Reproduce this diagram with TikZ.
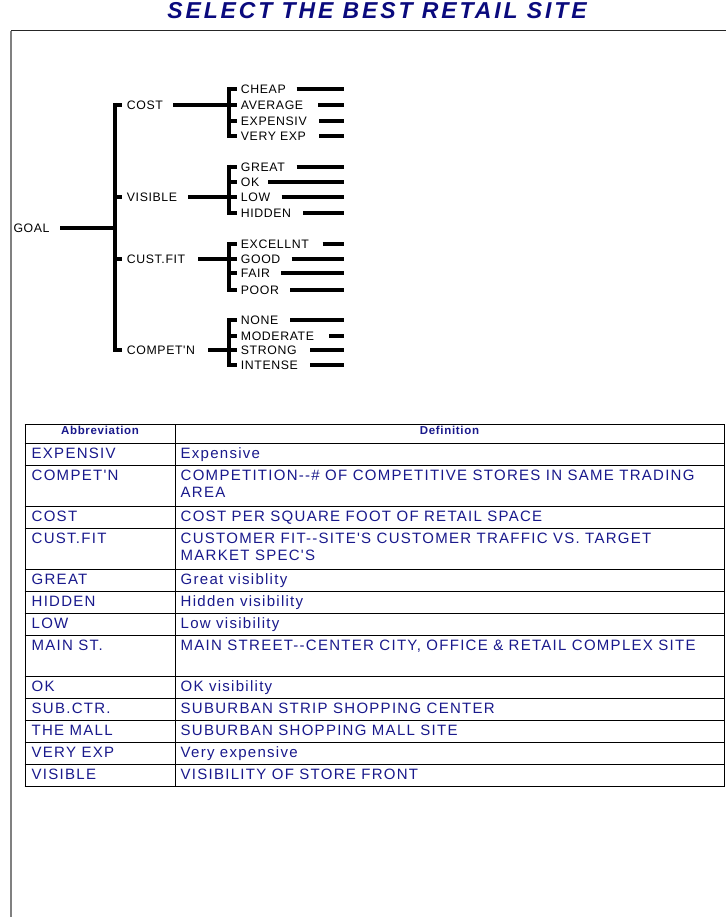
\documentclass[tikz,border=0pt]{standalone}
\usepackage{fontspec}
\setmainfont{Liberation Sans}
\newfontfamily\treefont[LetterSpace=5]{Liberation Sans}
\newfontfamily\tabfont[LetterSpace=8.5]{Liberation Sans}
\newfontfamily\headfont[LetterSpace=6]{Liberation Sans}
\newfontfamily\titlefont[LetterSpace=12.5]{Liberation Sans}
\definecolor{navy}{RGB}{10,10,125}
\definecolor{tabblue}{RGB}{25,25,140}
\begin{document}
\begin{tikzpicture}[x=1pt,y=-1pt,
  br/.style={line width=4pt, line cap=butt},
  lbl/.style={anchor=west, inner sep=0pt, font=\treefont\fontsize{12.3}{14}\selectfont, text height=8.8pt, text depth=0pt},
  cell/.style={anchor=north west, inner sep=0pt, align=left, text=tabblue, font=\tabfont\fontsize{15}{17}\selectfont},
  head/.style={anchor=base, inner sep=0pt, text=tabblue, font=\headfont\bfseries\fontsize{11.5}{13}\selectfont},
  tabline/.style={line width=1pt, draw=black},
  titlestyle/.style={anchor=base, inner sep=0pt, text=navy, font=\titlefont\bfseries\itshape\fontsize{23}{26}\selectfont}]
\useasboundingbox (0,0) rectangle (726,917);
\fill[white] (0,0) rectangle (726,917);
% frame
\coordinate (fTL) at (11,30.7);
\coordinate (fTR) at (726,30.7);
\coordinate (fBL) at (11,917);
\draw[line width=1.2pt, black!85] (fTL) -- (fTR);
\draw[line width=2pt, gray] (fTL) -- (fBL);
% title
\node[titlestyle] (title) at (377,19) {SELECT THE BEST RETAIL SITE};
% tree: root and trunk
\node[lbl] (goal) at (13.3,228.3) {GOAL};
\coordinate (trunkT) at (115.3,103);
\coordinate (trunkB) at (115.3,352.3);
\draw[br] (trunkT) -- (trunkB);
\coordinate (goalS) at (60,228.3);
\draw[br] (goalS) -- (goalS -| trunkT);
\coordinate (brx) at (229.3,0);
\foreach \n/\t/\y/\s in {cost/COST/105/173.3, visible/VISIBLE/196.7/188.3, custfit/CUST.FIT/259.3/198.3, competn/COMPET'N/350/208.3}{
  \node[lbl] (\n) at (126.7,\y) {\t};
  \draw[br] (115.3,\y) -- ([xshift=-5.2pt]\n.west);
  \coordinate (\n S) at (\s,\y);
  \draw[br] (\n S) -- (\n S -| brx);
}
% sub brackets
\draw[br] (229.3,87.3) -- (229.3,138);
\draw[br] (229.3,164.7) -- (229.3,214.7);
\draw[br] (229.3,242) -- (229.3,292);
\draw[br] (229.3,318) -- (229.3,367.3);
\foreach \n/\t/\y/\s in {cheap/CHEAP/89.3/296.7, average/AVERAGE/105/318.3, expensiv/EXPENSIV/121/319.3, veryexp/VERY EXP/136/319.3,
  great/GREAT/166.7/296.7, ok/OK/181.7/268.3, low/LOW/196.7/281.7, hidden/HIDDEN/212.7/303.3,
  excellnt/EXCELLNT/244/322.7, good/GOOD/259.3/291.7, fair/FAIR/273.3/281, poor/POOR/290/290,
  none/NONE/320/290, moderate/MODERATE/336/329, strong/STRONG/350/310, intense/INTENSE/365.3/310}{
  \node[lbl] (\n) at (240.7,\y) {\t};
  \draw[br] (229.3,\y) -- ([xshift=-3.4pt]\n.west);
  \coordinate (\n S) at (\s,\y);
  \coordinate (\n E) at (344.3,\y);
  \draw[br] (\n S) -- (\n E);
}
% table grid
\foreach \y in {424,443,465,506,528,569,591,613,635,676,698,720,742,764,786}{
  \draw[tabline] (24.5,\y) -- (725,\y);
}
\foreach \x in {25,175,724.5}{
  \draw[tabline] (\x,424) -- (\x,786);
}
\node[head] (hAbbr) at (100,434.5) {Abbreviation};
\node[head] (hDef) at (449.5,434.5) {Definition};
\foreach \t/\a/\d in {443/EXPENSIV/Expensive,
  465/COMPET'N/{COMPETITION--\# OF COMPETITIVE STORES IN SAME TRADING\\AREA},
  506/COST/{COST PER SQUARE FOOT OF RETAIL SPACE},
  528/CUST.FIT/{CUSTOMER FIT--SITE'S CUSTOMER TRAFFIC VS. TARGET\\MARKET SPEC'S},
  569/GREAT/{Great visiblity},
  591/HIDDEN/{Hidden visibility},
  613/LOW/{Low visibility},
  635/MAIN ST./{MAIN STREET--CENTER CITY, OFFICE \& RETAIL COMPLEX SITE},
  676/OK/{OK visibility},
  698/SUB.CTR./{SUBURBAN STRIP SHOPPING CENTER},
  720/THE MALL/{SUBURBAN SHOPPING MALL SITE},
  742/VERY EXP/{Very expensive},
  764/VISIBLE/{VISIBILITY OF STORE FRONT}}{
  \node[cell] (abbr\t) at (31.5,\t+4.5) {\rule{0pt}{10.7pt}\a};
  \node[cell] (def\t) at (180.5,\t+4.5) {\rule{0pt}{10.7pt}\d};
}
\end{tikzpicture}
\end{document}
